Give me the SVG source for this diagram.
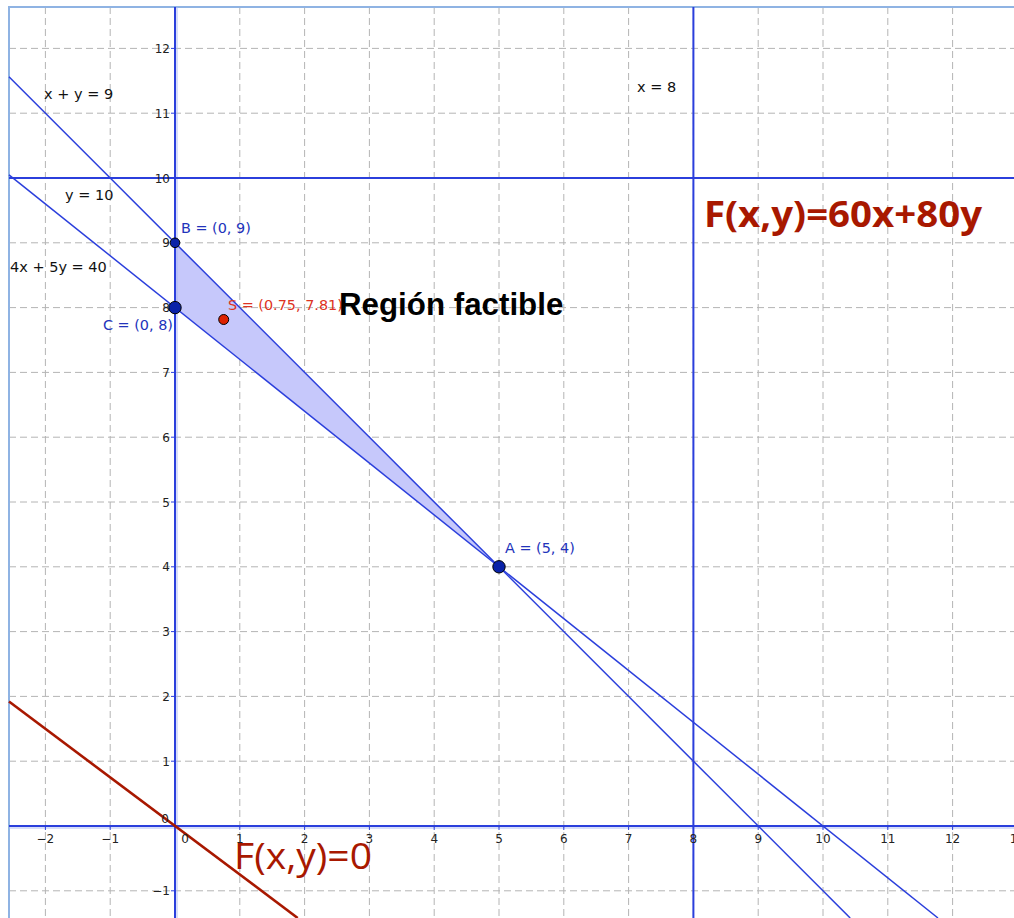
<svg xmlns="http://www.w3.org/2000/svg" width="1014" height="918" viewBox="0 0 1014 918">
<style>
.grid{stroke:#b4b4b4;stroke-width:1;stroke-dasharray:7 4;fill:none}
.axis{stroke:#2b3fdc;stroke-width:2;fill:none}
.halo{stroke:#a9b6f2;stroke-width:4;fill:none}
.line{stroke:#2b3fdc;stroke-width:1.5;fill:none}
.tick{stroke:#2b3fdc;stroke-width:1}
.num{font-family:"DejaVu Sans",sans-serif;font-size:12px;fill:#222}
.eq{font-family:"DejaVu Sans",sans-serif;font-size:14.5px;fill:#111}
.lbl{font-family:"DejaVu Sans",sans-serif;font-size:14.4px;fill:#2233bb}
.pt{fill:#0a22a8;stroke:#000;stroke-width:1}
</style>
<rect x="0" y="0" width="1014" height="918" fill="#ffffff"/>
<g id="grid">
<path class="grid" d="M45.4 7V918M110.2 7V918M239.8 7V918M304.6 7V918M369.4 7V918M434.2 7V918M499 7V918M563.8 7V918M628.6 7V918M693.4 7V918M758.2 7V918M823 7V918M887.8 7V918M952.6 7V918"/>
<path class="grid" d="M9 48.4H1014M9 113.2H1014M9 178H1014M9 242.8H1014M9 307.6H1014M9 372.4H1014M9 437.2H1014M9 502H1014M9 566.8H1014M9 631.6H1014M9 696.4H1014M9 761.2H1014M9 890.8H1014"/>
</g>
<g id="frame">
<path d="M9 918V7H1014" stroke="#8fb3e3" stroke-width="2" fill="none"/>
</g>
<g id="region">
<polygon points="175,242.8 175,307.6 499,566.8" fill="#c6c8fb" stroke="none"/>
</g>
<g id="connectors">
<path class="halo" d="M9 827H1014M176 7V918" opacity="0.45"/>
<path class="axis" d="M9 826H1014"/>
<path class="axis" d="M175 7V918"/>
<path class="tick" d="M45.4 826v4M110.2 826v4M239.8 826v4M304.6 826v4M369.4 826v4M434.2 826v4M499 826v4M563.8 826v4M628.6 826v4M693.4 826v4M758.2 826v4M823 826v4M887.8 826v4M952.6 826v4"/>
<path class="tick" d="M171 48.4h4M171 113.2h4M171 178h4M171 242.8h4M171 307.6h4M171 372.4h4M171 437.2h4M171 502h4M171 566.8h4M171 631.6h4M171 696.4h4M171 761.2h4M171 890.8h4"/>
<path class="axis" d="M9 178H1014"/>
<path class="axis" d="M693.4 7V918"/>
<path class="line" d="M9 76.8L850.2 918"/>
<path class="line" d="M9 174.8L938 918"/>
<path d="M9 701.5L297.7 918" stroke="#a81800" stroke-width="2.6" fill="none"/>
</g>
<g id="ticklabels">
<g class="num" text-anchor="middle">
<text x="45.4" y="843">−2</text>
<text x="110.2" y="843">−1</text>
<text x="185" y="843">0</text>
<text x="239.8" y="843">1</text>
<text x="304.6" y="843">2</text>
<text x="369.4" y="843">3</text>
<text x="434.2" y="843">4</text>
<text x="499" y="843">5</text>
<text x="563.8" y="843">6</text>
<text x="628.6" y="843">7</text>
<text x="693.4" y="843">8</text>
<text x="758.2" y="843">9</text>
<text x="823" y="843">10</text>
<text x="887.8" y="843">11</text>
<text x="952.6" y="843">12</text>
<text x="1017.4" y="843">13</text>
</g>
<g class="num" text-anchor="end">
<text x="170" y="52.9">12</text>
<text x="170" y="117.7">11</text>
<text x="170" y="182.5">10</text>
<text x="170" y="247.3">9</text>
<text x="170" y="312.1">8</text>
<text x="170" y="376.9">7</text>
<text x="170" y="441.7">6</text>
<text x="170" y="506.5">5</text>
<text x="170" y="571.3">4</text>
<text x="170" y="636.1">3</text>
<text x="170" y="700.9">2</text>
<text x="170" y="765.7">1</text>
<text x="169" y="823">0</text>
<text x="170" y="895.3">−1</text>
</g>
</g>
<g id="eq-labels">
<text class="eq" x="44" y="99">x + y = 9</text>
<text class="eq" x="65" y="200">y = 10</text>
<text class="eq" x="10" y="272">4x + 5y = 40</text>
<text class="eq" x="637" y="92">x = 8</text>
</g>
<g id="point-S">
<text x="228" y="310" font-family="DejaVu Sans, sans-serif" font-size="14.4px" fill="#dd3322">S = (0.75, 7.81)</text>
<circle cx="223.7" cy="319.5" r="5" fill="#dd2200" stroke="#000" stroke-width="1"/>
</g>
<g id="title-region">
<text x="339" y="315" font-family="Liberation Sans, Arial, sans-serif" font-weight="bold" font-size="31.3px" fill="#000">Región factible</text>
</g>
<g id="point-B">
<circle class="pt" cx="175" cy="242.8" r="4.8"/>
<text class="lbl" x="181" y="233">B = (0, 9)</text>
</g>
<g id="point-C">
<circle class="pt" cx="175" cy="307.6" r="6.2"/>
<text class="lbl" x="103" y="330">C = (0, 8)</text>
</g>
<g id="point-A">
<circle class="pt" cx="499" cy="566.8" r="6.2"/>
<text class="lbl" x="505" y="553">A = (5, 4)</text>
</g>
<g id="objective">
<text x="704" y="227" font-family="Open Sans, sans-serif" font-weight="bold" font-size="35px" fill="#a81800" textLength="278" lengthAdjust="spacingAndGlyphs">F(x,y)=60x+80y</text>
</g>
<g id="level-zero">
<text x="234" y="869" font-family="Open Sans, sans-serif" font-size="37px" fill="#a81800" textLength="138" lengthAdjust="spacingAndGlyphs">F(x,y)=0</text>
</g>
</svg>
